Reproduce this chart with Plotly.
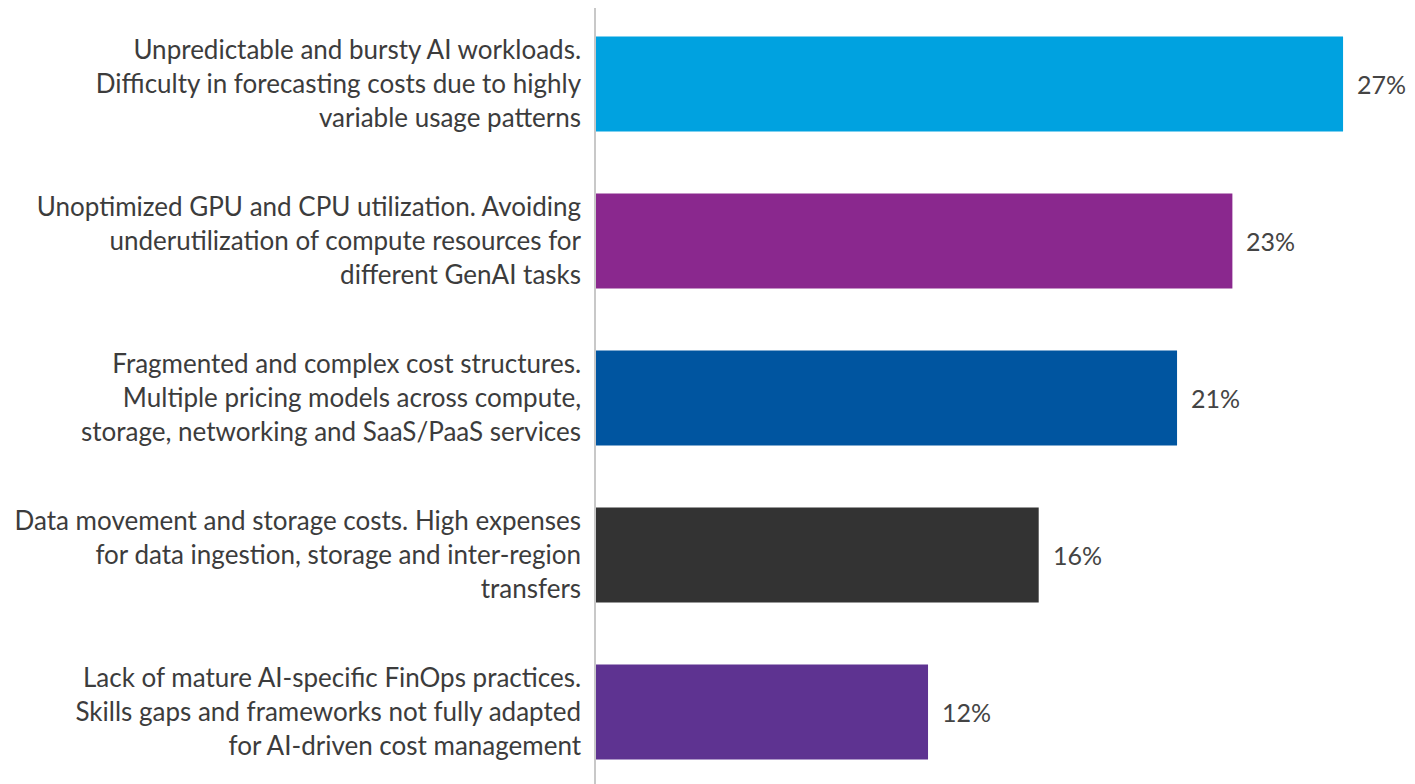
import plotly.graph_objects as go

categories = [
    "Unpredictable and bursty AI workloads.<br>Difficulty in forecasting costs due to highly<br>variable usage patterns",
    "Unoptimized GPU and CPU utilization. Avoiding<br>underutilization of compute resources for<br>different GenAI tasks",
    "Fragmented and complex cost structures.<br>Multiple pricing models across compute,<br>storage, networking and SaaS/PaaS services",
    "Data movement and storage costs. High expenses<br>for data ingestion, storage and inter-region<br>transfers",
    "Lack of mature AI-specific FinOps practices.<br>Skills gaps and frameworks not fully adapted<br>for AI-driven cost management",
]
values = [27, 23, 21, 16, 12]
value_labels = ["27%", "23%", "21%", "16%", "12%"]
colors = ["#00A2E0", "#8A288E", "#0055A0", "#333333", "#5E3391"]

FONT = "Lato"

fig = go.Figure()
fig.add_trace(go.Bar(
    y=categories,
    x=values,
    orientation="h",
    marker=dict(color=colors, line=dict(width=0)),
    hoverinfo="skip",
))

for c, v, t in zip(categories, values, value_labels):
    fig.add_annotation(
        x=v, y=c, text=t, showarrow=False,
        xanchor="left", xshift=12,
        font=dict(family=FONT, size=25, color="#444444"),
    )

fig.update_layout(
    width=1407,
    height=776,
    margin=dict(l=588, r=0, t=0, b=0),
    paper_bgcolor="white",
    plot_bgcolor="white",
    bargap=0.395,
    showlegend=False,
    font=dict(family=FONT, size=26, color="#3c3c3c"),
)
fig.update_xaxes(
    range=[0, 29.6],
    showgrid=False, zeroline=False, showticklabels=False, showline=False,
)
fig.update_yaxes(
    type="category",
    range=[4.459, -0.484],
    showgrid=False, zeroline=False,
    showline=True, linecolor="#c8c8c8", linewidth=1.5,
    ticks="", ticklabelstandoff=8,
    tickfont=dict(family=FONT, size=26, color="#3c3c3c"),
)

fig.write_html("out.html")
